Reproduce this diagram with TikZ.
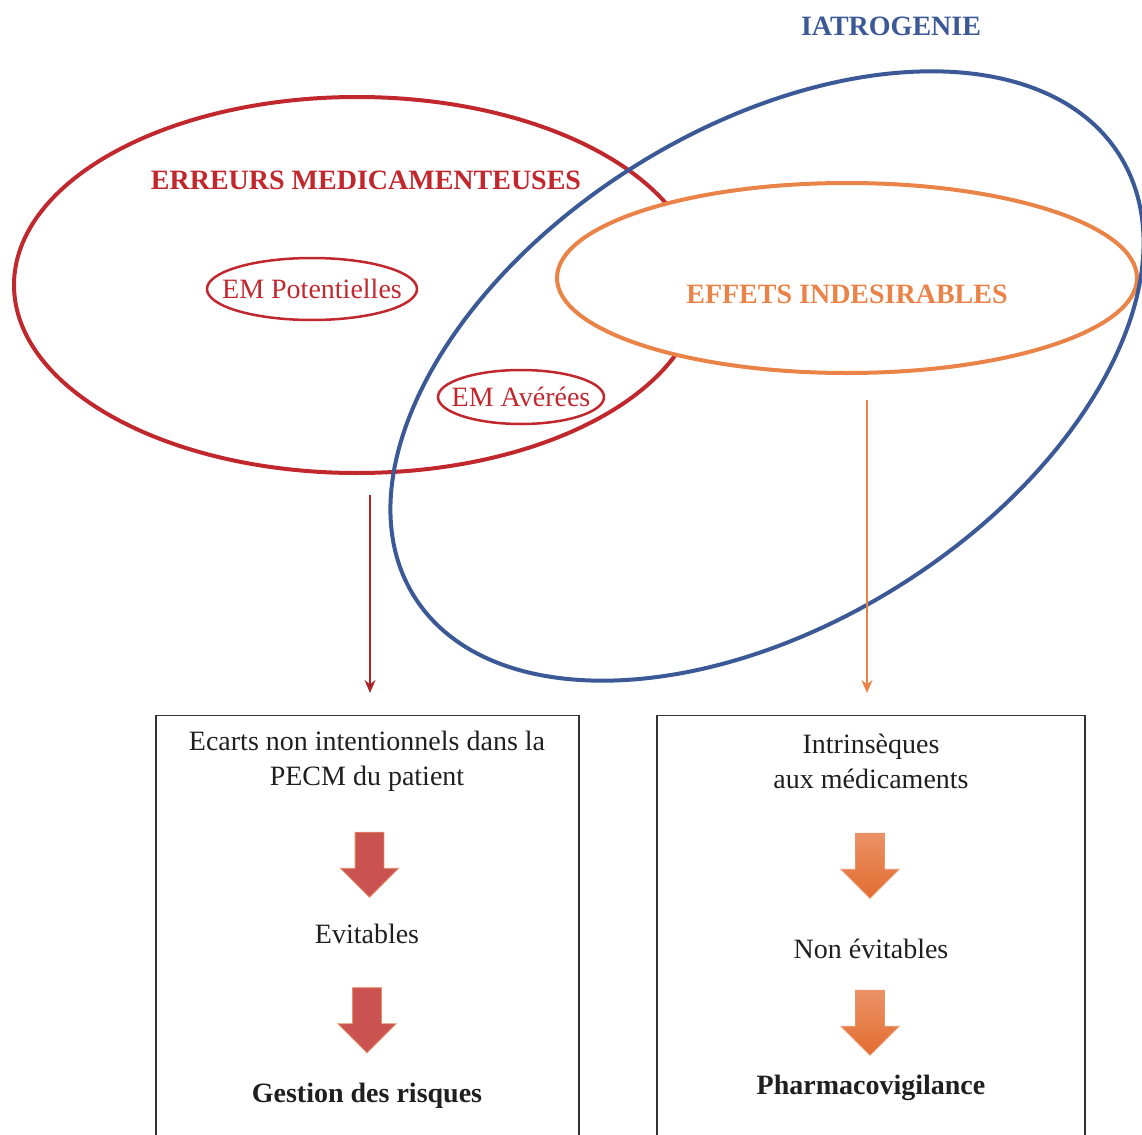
\documentclass[tikz,border=0pt]{standalone}
\usepackage{fontspec}
\setmainfont{Liberation Serif}
\usetikzlibrary{shapes.geometric,shapes.arrows,arrows.meta}

\definecolor{emred}{RGB}{192,40,46}
\definecolor{ieorange}{RGB}{233,131,72}
\definecolor{iablue}{RGB}{58,89,150}
\definecolor{arrowred}{RGB}{202,82,80}
\definecolor{arrowrim}{RGB}{228,140,100}
\definecolor{arrowtop}{RGB}{235,146,102}
\definecolor{arrowbot}{RGB}{226,108,48}

\begin{document}
\begin{tikzpicture}[x=0.5pt,y=-0.5pt]
% Styles
\tikzset{
    every node/.style={font=\fontsize{14}{17.5}\selectfont, text=black!88},
    title/.style={font=\fontsize{14}{17}\selectfont\bfseries},
    emoval/.style={ellipse, draw=emred, line width=1.25pt, text=emred, inner xsep=-12pt, inner ysep=0pt},
    bigbox/.style={draw=black!80, line width=0.7pt, minimum height=220pt, anchor=north},
    blockarrow/.style={single arrow, rotate=-90, inner xsep=0pt, inner ysep=7pt,
        single arrow head extend=7.25pt, minimum height=32.5pt},
    redblock/.style={blockarrow, fill=arrowred, draw=arrowrim, line width=0.4pt},
    orangeblock/.style={blockarrow, top color=arrowtop, bottom color=arrowbot, draw=arrowtop, line width=0.4pt},
    linkred/.style={draw=emred!90!black, line width=0.75pt, -{Stealth[length=6.5pt,width=5.5pt]}},
    linkorange/.style={draw=ieorange, line width=0.75pt, -{Stealth[length=6.5pt,width=5.5pt]}}
}
\useasboundingbox (0,0) rectangle (1142,1135);

% Ellipses
\draw[line width=2pt, emred] (357,285) ellipse [x radius=171.5pt, y radius=94pt];
\draw[line width=2pt, ieorange, fill=white] (847,278) ellipse [x radius=145pt, y radius=47.5pt];
\draw[line width=2pt, iablue, rotate around={32:(767,376)}] (767,376) ellipse [x radius=208pt, y radius=124pt];

% Titles
\node[title, text=iablue] (iatro) at (891,26) {IATROGENIE};
\node[title, text=emred] (emtitle) at (366,180) {ERREURS MEDICAMENTEUSES};
\node[title, text=ieorange] (eititle) at (847,294) {EFFETS INDESIRABLES};

% Inner ovals
\node[emoval, minimum width=105pt, minimum height=31pt] (empot) at (312,289) {EM Potentielles};
\node[emoval, minimum width=83pt, minimum height=27pt] (emav) at (521,397) {EM Avérées};

% Boxes
\node[bigbox, minimum width=211.5pt] (leftbox) at (367.5,715) {};
\node[bigbox, minimum width=214pt] (rightbox) at (871,715) {};

% Links
\coordinate (emfoot) at (370,495);
\coordinate (eifoot) at (867,400);
\draw[linkred, shorten >=11pt] (emfoot) -- (emfoot |- leftbox.north);
\draw[linkorange, shorten >=11pt] (eifoot) -- (eifoot |- rightbox.north);

% Left column
\node[align=center] (ecarts) at (367,761) {Ecarts non intentionnels dans la\\PECM du patient};
\node[redblock] (ra1) at (369.5,857.5) {};
\node (evit) at (367,934) {Evitables};
\node[redblock] (ra2) at (367,1013) {};
\node[font=\fontsize{14}{17}\selectfont\bfseries] (gestion) at (367,1096) {Gestion des risques};

% Right column
\node[align=center] (intrin) at (871,761) {Intrinsèques\\aux médicaments};
\node[orangeblock] (oa1) at (870,858.5) {};
\node (nonevit) at (871,949) {Non évitables};
\node[orangeblock] (oa2) at (870,1015.5) {};
\node[font=\fontsize{14}{17}\selectfont\bfseries] (pharma) at (871,1088) {Pharmacovigilance};
\end{tikzpicture}
\end{document}
